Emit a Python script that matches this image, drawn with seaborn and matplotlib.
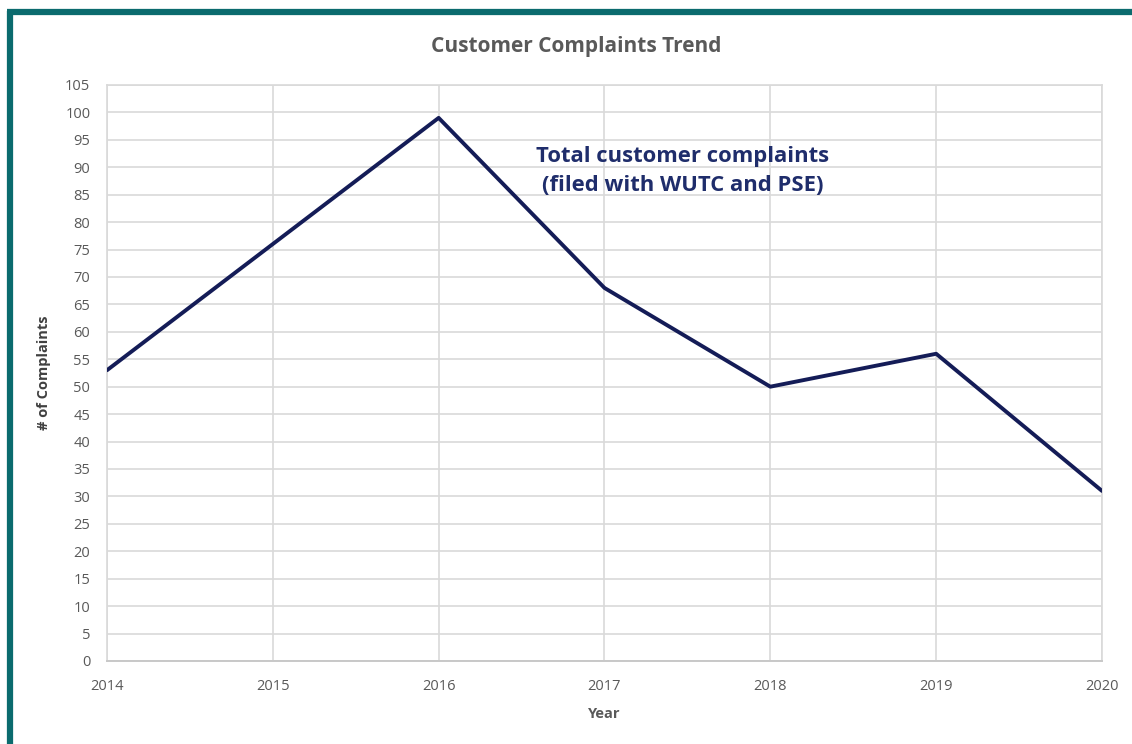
import matplotlib
matplotlib.use("Agg")
import matplotlib.pyplot as plt
import seaborn as sns
import pandas as pd
from matplotlib.lines import Line2D

years = [2014, 2015, 2016, 2017, 2018, 2019, 2020]
complaints = [53, 76, 99, 68, 50, 56, 31]
y_ticks = list(range(0, 106, 5))

title = "Customer Complaints Trend"
note = "Total customer complaints\n(filed with WUTC and PSE)"
xlabel = "Year"
ylabel = "# of Complaints"

sns.set_theme(style="white")
plt.rcParams['font.family'] = ['Open Sans', 'DejaVu Sans']

df = pd.DataFrame({"Year": years, "Complaints": complaints})

fig = plt.figure(figsize=(11.32, 7.44), dpi=100)
ax = fig.add_axes([0.0945, 0.1116, 0.879, 0.7742])

sns.lineplot(data=df, x="Year", y="Complaints", ax=ax, color="#141c57",
             linewidth=2.8, zorder=3)

ax.set_xlim(2014, 2020)
ax.set_ylim(0, 105)
ax.set_xticks(years)
ax.set_xticklabels([str(y) for y in years])
ax.set_yticks(y_ticks)
ax.grid(True, color="#d9d9d9", linewidth=1.2, zorder=0)
for s in ["top", "right", "left"]:
    ax.spines[s].set_color("#d9d9d9")
    ax.spines[s].set_linewidth(1.2)
ax.spines["bottom"].set_color("#c8c8c8")
ax.spines["bottom"].set_linewidth(1.4)
ax.tick_params(axis="both", length=0, labelsize=10.5, labelcolor="#595959")
ax.tick_params(axis="x", pad=13)
ax.tick_params(axis="y", pad=12)

ax.set_xlabel(xlabel, fontsize=10.5, fontweight="bold", color="#595959", labelpad=9)
ax.set_ylabel(ylabel, fontsize=10.5, fontweight="bold", color="#404040", labelpad=10)

fig.text(0.509, 0.937, title, ha="center", va="center", fontsize=15,
         fontweight="bold", color="#595959")
ax.text(2017.47, 89.3, note, ha="center", va="center", fontsize=15.8,
        fontweight="bold", color="#1f2d6b", linespacing=1.55)

# teal frame (left and top)
teal = "#0b6b6e"
fig.add_artist(Line2D([0.0085, 0.0085], [0.0, 0.985], transform=fig.transFigure,
                      color=teal, linewidth=4.5, solid_capstyle="butt"))
fig.add_artist(Line2D([0.0062, 1.0], [0.9835, 0.9835], transform=fig.transFigure,
                      color=teal, linewidth=4.5, solid_capstyle="butt"))

fig.savefig("out.png", dpi=100, facecolor="white")
